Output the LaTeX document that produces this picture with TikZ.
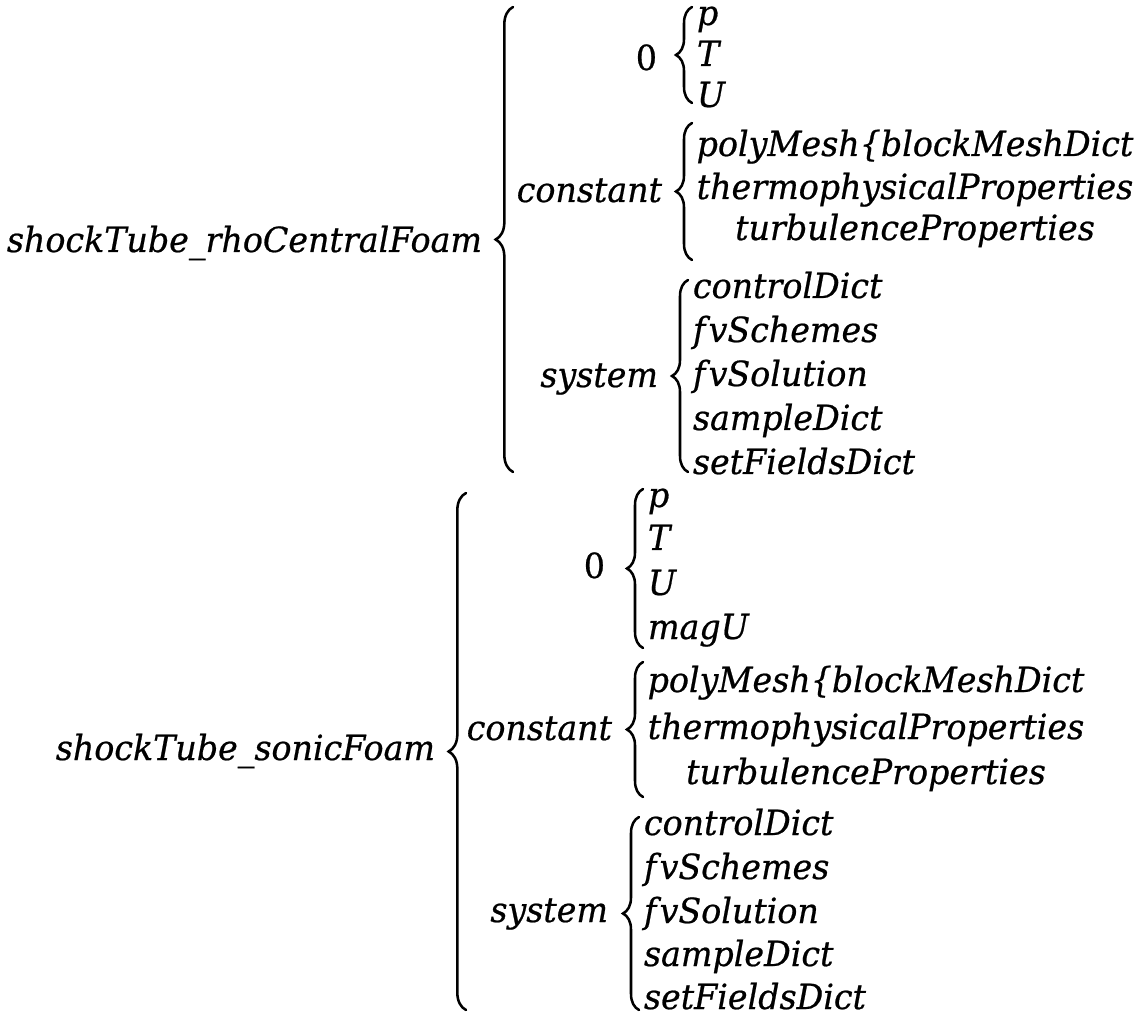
\documentclass[tikz,border=0pt]{standalone}
\usepackage{fontspec}
\setmainfont{DejaVu Serif}[FakeStretch=0.96, FakeBold=0.6]
\usetikzlibrary{decorations.pathreplacing}

\tikzset{
  lbl/.style={inner sep=0pt, outer sep=0pt, font=\fontsize{26}{30}\selectfont\itshape},
  leaf/.style={lbl, anchor=base west},
  parent/.style={lbl, anchor=base east},
  centred/.style={lbl, anchor=base},
  digit/.style={parent, font=\fontsize{26}{30}\selectfont\upshape},
  curly/.style={decorate, decoration={brace, amplitude=#1}, line width=1.9pt, line cap=round},
  bigcurly/.style={curly=13pt},
  smallcurly/.style={curly=12pt},
}
\newcommand{\fvgap}{f\kern2.5pt v}

\begin{document}
\begin{tikzpicture}[x=0.75pt, y=-0.75pt]
  \useasboundingbox[fill=white] (0,0) rectangle (1146,1019);

  % ---------- shockTube_rhoCentralFoam ----------
  \node[parent] (rA) at (482,252) {shockTube\_rhoCentralFoam};
  \coordinate (rAbot) at (513,472);
  \coordinate (rAtop) at (513,7);
  \draw[bigcurly] (rAbot) -- (rAtop);

  \node[digit] (zA) at (657,70) {0};
  \coordinate (zAbot) at (692,103);
  \coordinate (zAtop) at (692,7);
  \draw[smallcurly] (zAbot) -- (zAtop);
  \node[leaf] (zAp) at (697,25) {p};
  \node[leaf] (zAT) at (697,66) {T};
  \node[leaf] (zAU) at (697,107) {U};

  \node[parent] (cA) at (662,202) {constant};
  \coordinate (cAbot) at (692,260);
  \coordinate (cAtop) at (692,123);
  \draw[smallcurly] (cAbot) -- (cAtop);
  \node[centred] (cApoly) at (915,156) {polyMesh\{blockMeshDict};
  \node[centred] (cAthermo) at (915,199) {thermophysicalProperties};
  \node[centred] (cAturb) at (915,240) {turbulenceProperties};

  \node[parent] (sA) at (658,387) {system};
  \coordinate (sAbot) at (688,472);
  \coordinate (sAtop) at (688,280);
  \draw[smallcurly] (sAbot) -- (sAtop);
  \node[leaf] (sAcontrol) at (693,298) {controlDict};
  \node[leaf] (sAschemes) at (693,342) {\fvgap Schemes};
  \node[leaf] (sAsolution) at (693,386) {\fvgap Solution};
  \node[leaf] (sAsample) at (693,430) {sampleDict};
  \node[leaf] (sAset) at (693,474) {setFieldsDict};

  % ---------- shockTube_sonicFoam ----------
  \node[parent] (rB) at (435,760) {shockTube\_sonicFoam};
  \coordinate (rBbot) at (466,1010);
  \coordinate (rBtop) at (466,493);
  \draw[bigcurly] (rBbot) -- (rBtop);

  \node[digit] (zB) at (605,578) {0};
  \coordinate (zBbot) at (643,648);
  \coordinate (zBtop) at (643,489);
  \draw[smallcurly] (zBbot) -- (zBtop);
  \node[leaf] (zBp) at (648,507) {p};
  \node[leaf] (zBT) at (648,550) {T};
  \node[leaf] (zBU) at (648,595) {U};
  \node[leaf] (zBmag) at (648,639) {magU};

  \node[parent] (cB) at (612,740) {constant};
  \coordinate (cBbot) at (643,797);
  \coordinate (cBtop) at (643,662);
  \draw[smallcurly] (cBbot) -- (cBtop);
  \node[centred] (cBpoly) at (866,692) {polyMesh\{blockMeshDict};
  \node[centred] (cBthermo) at (866,739) {thermophysicalProperties};
  \node[centred] (cBturb) at (866,784) {turbulenceProperties};

  \node[parent] (sB) at (608,922) {system};
  \coordinate (sBbot) at (639,1010);
  \coordinate (sBtop) at (639,817);
  \draw[smallcurly] (sBbot) -- (sBtop);
  \node[leaf] (sBcontrol) at (644,835) {controlDict};
  \node[leaf] (sBschemes) at (644,879) {\fvgap Schemes};
  \node[leaf] (sBsolution) at (644,923) {\fvgap Solution};
  \node[leaf] (sBsample) at (644,966) {sampleDict};
  \node[leaf] (sBset) at (644,1009) {setFieldsDict};
\end{tikzpicture}
\end{document}
